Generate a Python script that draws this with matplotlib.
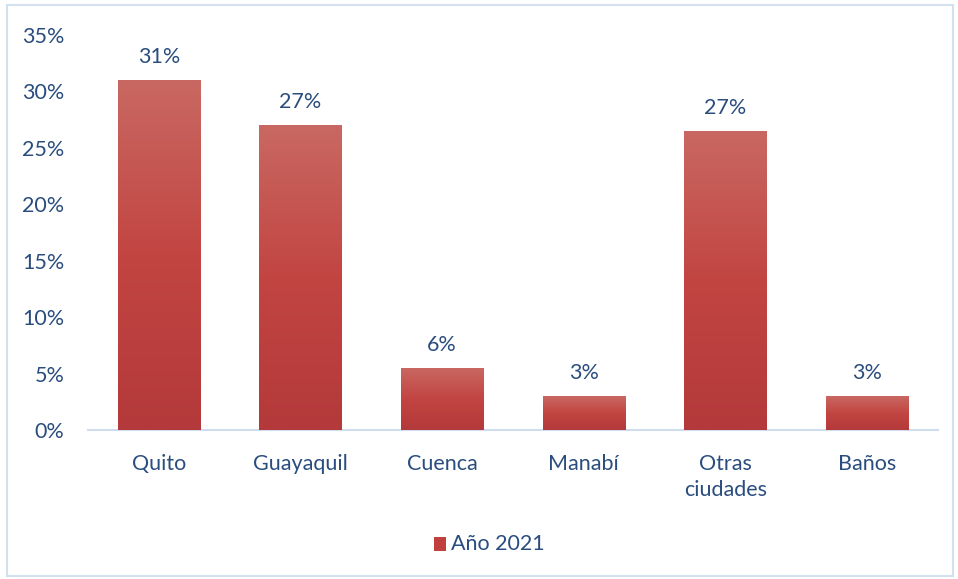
import numpy as np
import matplotlib
matplotlib.use("Agg")
import matplotlib.pyplot as plt
from matplotlib.colors import LinearSegmentedColormap
from matplotlib.patches import Rectangle
from matplotlib.ticker import FuncFormatter

categories = ["Quito", "Guayaquil", "Cuenca", "Manabí", "Otras\nciudades", "Baños"]
values = [31.0, 27.0, 5.5, 3.0, 26.5, 3.0]
labels = ["31%", "27%", "6%", "3%", "27%", "3%"]
series_name = "Año 2021"
yticks = [0, 5, 10, 15, 20, 25, 30, 35]

text_color = "#2A4D7F"
plt.rcParams['font.family'] = ['Lato', 'DejaVu Sans']
fs = 15.5

fig = plt.figure(figsize=(9.58, 5.79), dpi=100)
ax = fig.add_axes([88/958, 1-430/579, 850/958, 395/579])

cmap = LinearSegmentedColormap.from_list("grad", ["#B4393A", "#C24542", "#C96862"])
grad = np.linspace(0, 1, 256).reshape(-1, 1)

x = np.arange(len(categories))
bars = ax.bar(x, values, width=0.58, color="#C0403F", zorder=2)
for b in bars:
    x0, y0, w, h = b.get_x(), b.get_y(), b.get_width(), b.get_height()
    im = ax.imshow(grad, extent=(x0, x0 + w, y0, y0 + h), origin="lower",
                   aspect="auto", cmap=cmap, zorder=3)
    im.set_clip_path(b)
    b.set_alpha(0)

for b, lab in zip(bars, labels):
    ax.annotate(lab, (b.get_x() + b.get_width()/2, b.get_height()),
                xytext=(0, 9.5), textcoords="offset points",
                ha="center", va="bottom", fontsize=fs, color=text_color)

ax.set_xlim(-0.5, len(categories) - 0.5)
ax.set_ylim(0, 35)
ax.set_yticks(yticks)
ax.yaxis.set_major_formatter(FuncFormatter(lambda v, p: f"{int(v)}%"))
ax.set_xticks(x)
ax.set_xticklabels(categories, linespacing=1.4)
ax.tick_params(axis="both", length=0, labelsize=fs, colors=text_color)
ax.tick_params(axis="x", pad=17)
ax.tick_params(axis="y", pad=17)
for s in ["top", "right", "left"]:
    ax.spines[s].set_visible(False)
ax.spines["bottom"].set_color("#D0DDEE")
ax.spines["bottom"].set_linewidth(1.5)

# legend
lx = 440/958
ly = 1 - 544/579
fig.patches.append(Rectangle((lx - 6/958, ly - 7/579), 12/958, 14/579,
                             transform=fig.transFigure, facecolor="#C0403F",
                             edgecolor="none"))
fig.text(lx + 11/958, ly, series_name, ha="left", va="center",
         fontsize=fs, color=text_color)

# chart border
fig.patches.append(Rectangle((7/958, 3/579), 946/958, 571/579,
                             transform=fig.transFigure, facecolor="none",
                             edgecolor="#D3E0F0", linewidth=1.5))

fig.savefig("out.png", dpi=100)
